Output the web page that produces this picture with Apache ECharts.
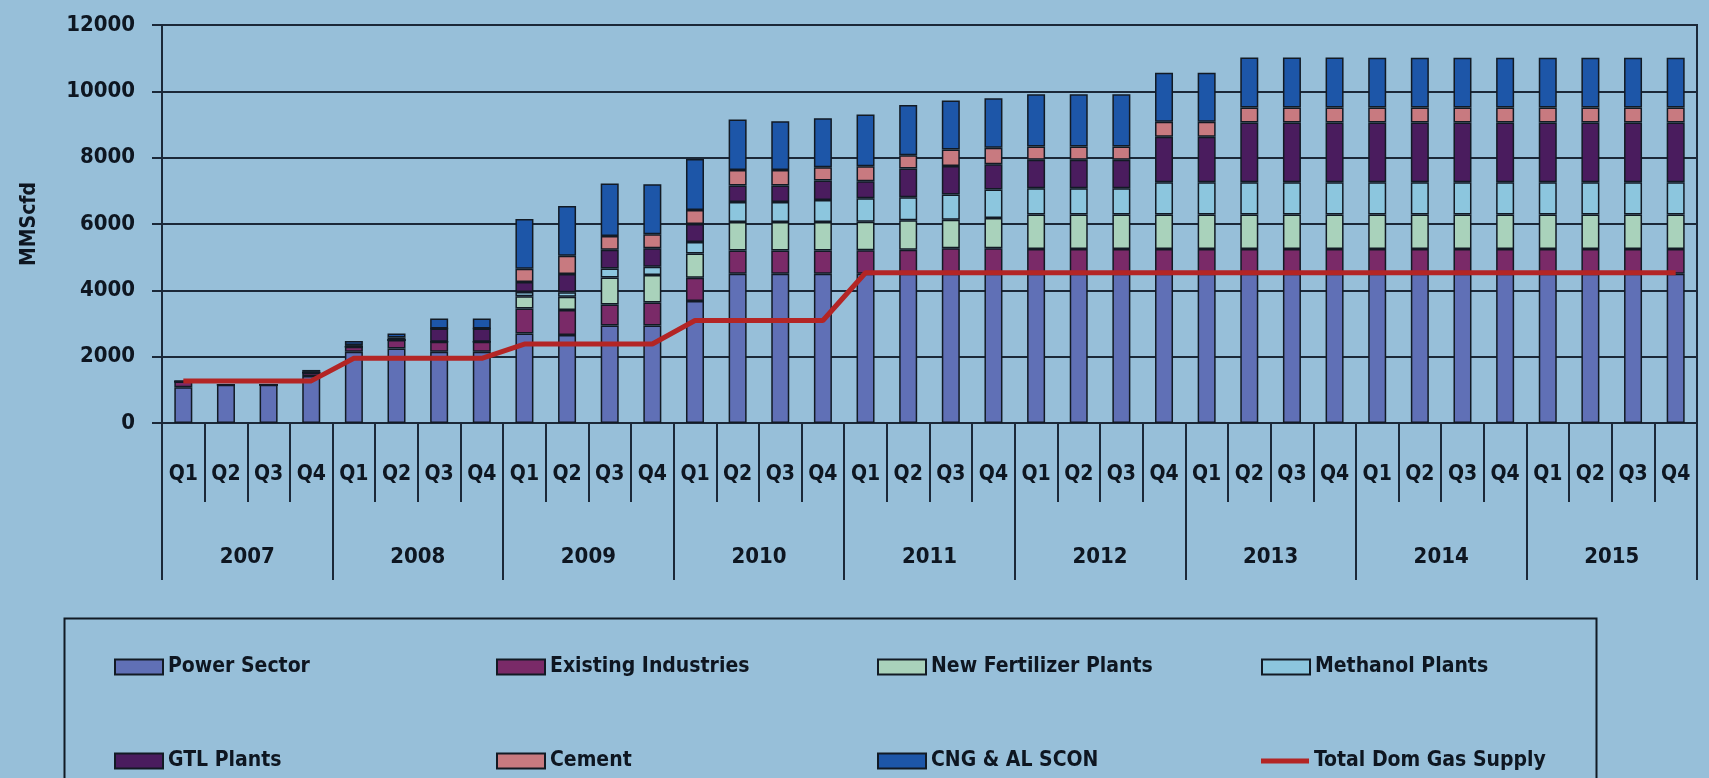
<!DOCTYPE html>
<html>
<head>
<meta charset="utf-8">
<script src="https://cdn.jsdelivr.net/npm/echarts@6/dist/echarts.min.js"></script>
<style>
html,body{margin:0;padding:0;background:#97bfd9;}
#chart{width:1709px;height:778px;}
</style>
</head>
<body>
<div id="chart"></div>
<script>
// ---- data ----
const years = ['2007','2008','2009','2010','2011','2012','2013','2014','2015'];
const quarterLabels = ['Q1','Q2','Q3','Q4'];
const quarters = [];
years.forEach(y => quarterLabels.forEach(q => quarters.push(q)));

const powerSector = [
  1080,1150,1150,1420,
  2150,2250,2150,2150,
  2700,2650,2940,2940,
  3680,4500,4500,4500,
  4500,4500,4500,4500,
  4500,4500,4500,4500,
  4500,4500,4500,4500,
  4500,4500,4500,4500,
  4500,4500,4500,4500
];
const existingIndustries = [
  170,0,0,100,
  150,250,300,300,
  750,760,630,690,
  700,700,700,700,
  710,720,770,770,
  750,750,750,750,
  750,750,750,750,
  750,750,750,750,
  750,750,750,750
];
const newFertilizer = [
  0,0,0,0,
  0,0,0,0,
  370,400,820,830,
  730,860,860,860,
  860,890,860,910,
  1040,1040,1040,1040,
  1040,1040,1040,1040,
  1040,1040,1040,1040,
  1040,1040,1040,1040
];
const methanolPlants = [
  0,0,0,0,
  0,0,0,0,
  130,130,270,250,
  350,600,600,660,
  710,700,760,860,
  790,790,790,970,
  970,970,970,970,
  970,970,970,970,
  970,970,970,970
];
const gtlPlants = [
  0,0,0,0,
  0,0,400,400,
  300,550,560,560,
  540,500,500,590,
  510,860,860,760,
  860,860,860,1370,
  1370,1800,1800,1800,
  1800,1800,1800,1800,
  1800,1800,1800,1800
];
const cement = [
  0,0,0,30,
  50,80,0,0,
  400,550,420,420,
  420,470,470,400,
  450,400,500,500,
  400,400,400,450,
  450,450,450,450,
  450,450,450,450,
  450,450,450,450
];
const cngAlscon = [
  0,0,0,50,
  120,120,300,300,
  1500,1500,1580,1510,
  1540,1520,1470,1480,
  1560,1520,1470,1490,
  1570,1570,1570,1480,
  1480,1510,1510,1510,
  1500,1500,1500,1500,
  1500,1500,1500,1500
];
const totalDomGasSupply = [
  1270,1270,1270,1270,
  1950,1950,1950,1950,
  2380,2380,2380,2380,
  3090,3090,3090,3090,
  4530,4530,4530,4530,
  4530,4530,4530,4530,
  4530,4530,4530,4530,
  4530,4530,4530,4530,
  4530,4530,4530,4530
];
const yTicks = {min:0, max:12000, interval:2000};

// ---- styling ----
const FONT = "'Liberation Sans Narrow', 'DejaVu Sans Condensed', 'Liberation Sans', Arial, sans-serif";
const INK = '#0e1621';
const LINE = '#1b2838';
const RED = '#b32525';

const barDefs = [
  {name:'Power Sector', data:powerSector, color:'#6070b6'},
  {name:'Existing Industries', data:existingIndustries, color:'#7a2a68'},
  {name:'New Fertilizer Plants', data:newFertilizer, color:'#a9d2bb'},
  {name:'Methanol Plants', data:methanolPlants, color:'#8cc6de'},
  {name:'GTL Plants', data:gtlPlants, color:'#4a1c5e'},
  {name:'Cement', data:cement, color:'#c87a80'},
  {name:'CNG & AL SCON', data:cngAlscon, color:'#1d56a8'}
];
const lineName = 'Total Dom Gas Supply';

const series = barDefs.map(d => ({
  name: d.name,
  type: 'bar',
  stack: 'total',
  xAxisIndex: 0,
  barWidth: 18,
  data: d.data,
  itemStyle: {color: d.color, borderColor: '#121a24', borderWidth: 1.5},
  emphasis: {disabled: true}
}));
series.push({
  name: lineName,
  type: 'line',
  xAxisIndex: 0,
  data: totalDomGasSupply,
  symbol: 'none',
  color: RED,
  itemStyle: {color: RED},
  lineStyle: {color: RED, width: 5},
  z: 10
});

// legend: 4 columns x 2 rows
const legendOrder = ['Power Sector','Existing Industries','New Fertilizer Plants','Methanol Plants',
                     'GTL Plants','Cement','CNG & AL SCON', lineName];
const colX = [114, 496, 877, 1261];
const rowMid = [667, 761];
const legends = legendOrder.map((n, i) => {
  const isLine = n === lineName;
  const lg = {
    data: [{name: n, icon: 'rect'}],
    left: colX[i % 4],
    top: rowMid[Math.floor(i / 4)] - 12,
    padding: 0,
    itemWidth: 48,
    itemHeight: isLine ? 5 : 15,
    itemGap: 0,
    selectedMode: false,
    textStyle: {fontFamily: FONT, fontSize: 21, fontWeight: 'bold', color: INK, lineHeight: 24}
  };
  if (isLine) lg.itemStyle = {color: RED, borderWidth: 0};
  return lg;
});

const chart = echarts.init(document.getElementById('chart'), null, {renderer: 'canvas'});
chart.setOption({
  backgroundColor: '#97bfd9',
  animation: false,
  grid: {left: 162, right: 12, top: 25, bottom: 355, show: true, borderColor: LINE, borderWidth: 2, backgroundColor: 'transparent'},
  legend: legends,
  graphic: [{
    type: 'rect',
    left: 62, top: 616,
    shape: {width: 1532, height: 200},
    style: {fill: 'none', stroke: '#111a24', lineWidth: 2},
    silent: true, z: -1
  }],
  xAxis: [
    {
      type: 'category',
      data: quarters,
      position: 'bottom',
      boundaryGap: true,
      axisLine: {show: true, lineStyle: {color: LINE, width: 2}},
      axisTick: {show: true, interval: 0, length: 79, lineStyle: {color: LINE, width: 2}},
      axisLabel: {interval: 0, margin: 41, fontFamily: FONT, fontSize: 21, fontWeight: 'bold', color: INK},
      splitLine: {show: false}
    },
    {
      type: 'category',
      data: years,
      position: 'bottom',
      boundaryGap: true,
      axisLine: {show: false},
      axisTick: {show: true, interval: 0, length: 157, lineStyle: {color: LINE, width: 2}},
      axisLabel: {interval: 0, margin: 123, fontFamily: FONT, fontSize: 22, fontWeight: 'bold', color: INK},
      splitLine: {show: false}
    }
  ],
  yAxis: {
    type: 'value',
    min: yTicks.min, max: yTicks.max, interval: yTicks.interval,
    name: 'MMScfd',
    nameLocation: 'middle',
    nameRotate: 90,
    nameGap: 122,
    nameTextStyle: {fontFamily: FONT, fontSize: 21, fontWeight: 'bold', color: INK},
    axisLine: {show: true, lineStyle: {color: LINE, width: 2}},
    axisTick: {show: true, length: 10, lineStyle: {color: LINE, width: 2}},
    axisLabel: {margin: 27, fontFamily: FONT, fontSize: 22, fontWeight: 'bold', color: INK,
                formatter: v => String(v)},
    splitLine: {show: true, lineStyle: {color: LINE, width: 2}}
  },
  series: series
});
</script>
</body>
</html>
